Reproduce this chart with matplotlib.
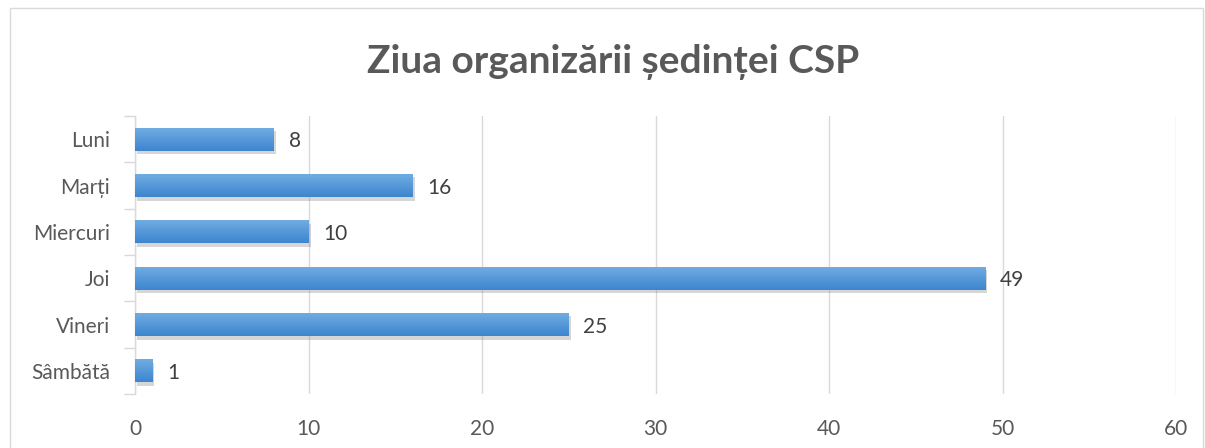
import matplotlib
matplotlib.use("Agg")
import matplotlib.pyplot as plt
import numpy as np
from matplotlib.patches import Rectangle
import matplotlib.patheffects as pe
from matplotlib.colors import LinearSegmentedColormap

categories = ["Luni", "Marți", "Miercuri", "Joi", "Vineri", "Sâmbătă"]
values = [8, 16, 10, 49, 25, 1]
xticks = [0, 10, 20, 30, 40, 50, 60]
title = "Ziua organizării ședinței CSP"

plt.rcParams['font.family'] = ['Lato', 'DejaVu Sans']

fig = plt.figure(figsize=(12.05, 4.48), dpi=100)
fig.patch.set_facecolor("white")
# outer chart border
fig.patches.append(Rectangle((10/1205, -0.05), 1193/1205, 1 - 8/448 + 0.05,
                             transform=fig.transFigure, fill=False,
                             edgecolor="#d9d9d9", linewidth=1.0, zorder=0))

ax = fig.add_axes([135/1205, 1 - 394/448, (1176-135)/1205, (394-116)/448])

y = np.arange(len(categories))
bars = ax.barh(y, values, height=0.5, color="#4f93d8", zorder=3,
               path_effects=[pe.SimplePatchShadow(offset=(1.5, -2.5), shadow_rgbFace="#8a8a8a", alpha=0.35),
                             pe.Normal()])

# gradient fill
grad = np.linspace(0, 1, 100).reshape(-1, 1)
cmap = LinearSegmentedColormap.from_list("g", ["#72aee3", "#3d85cf"])
for b in bars:
    x0, y0 = b.get_x(), b.get_y()
    w, h = b.get_width(), b.get_height()
    im = ax.imshow(grad, cmap=cmap, aspect="auto", extent=(x0, x0 + w, y0, y0 + h),
                   origin="lower", zorder=4)
    im.set_clip_path(b)

for yi, v in zip(y, values):
    ax.text(v + 0.85, yi + 0.05, str(v), va="center", ha="left", fontsize=15, color="#404040", zorder=5)

ax.set_xlim(0, 60)
ax.set_ylim(len(categories) - 0.5, -0.5)
ax.set_xticks(xticks)
ax.set_xticklabels([str(t) for t in xticks])
ax.set_yticks(y)
ax.set_yticklabels(categories)
ax.set_yticks(np.arange(-0.5, len(categories), 1), minor=True)
ax.tick_params(axis="y", which="major", length=0, pad=18, labelsize=15, labelcolor="#595959")
ax.tick_params(axis="y", which="minor", length=8, color="#d9d9d9", width=1)
ax.tick_params(axis="x", length=0, pad=18, labelsize=15, labelcolor="#595959")

ax.grid(axis="x", color="#d9d9d9", linewidth=1.0, zorder=0)
ax.set_axisbelow(True)
for s in ["top", "right", "bottom"]:
    ax.spines[s].set_visible(False)
ax.spines["left"].set_color("#d9d9d9")
ax.spines["left"].set_linewidth(1.0)

fig.text(0.509, 1 - 62/448, title, ha="center", va="center", fontsize=28,
         fontweight="bold", color="#595959")

fig.savefig("out.png", dpi=100)
